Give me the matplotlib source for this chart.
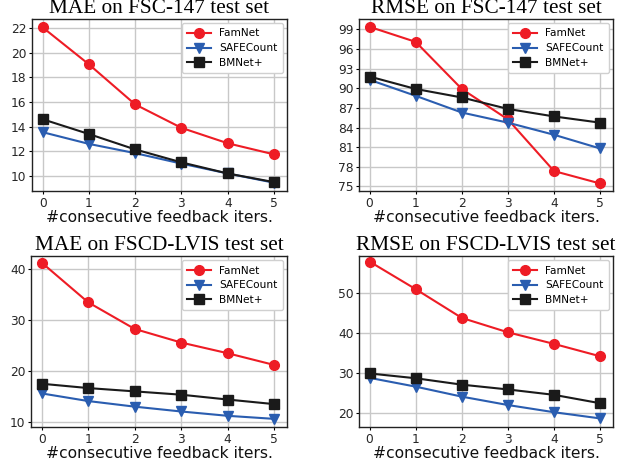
import matplotlib
matplotlib.use('Agg')
import matplotlib.pyplot as plt

iters = [0, 1, 2, 3, 4, 5]

# MAE on FSC-147
mae_fsc_famnet = [22.05, 19.05, 15.8, 13.9, 12.65, 11.75]
mae_fsc_safe = [13.55, 12.6, 11.85, 11.0, 10.2, 9.45]
mae_fsc_bmnet = [14.6, 13.4, 12.15, 11.1, 10.2, 9.5]

# RMSE on FSC-147
rmse_fsc_famnet = [99.4, 97.1, 89.9, 85.25, 77.35, 75.45]
rmse_fsc_safe = [91.3, 88.85, 86.3, 84.75, 82.9, 80.8]
rmse_fsc_bmnet = [91.8, 89.9, 88.6, 86.85, 85.7, 84.75]

# MAE on FSCD-LVIS
mae_lvis_famnet = [41.3, 33.5, 28.27, 25.6, 23.5, 21.2]
mae_lvis_safe = [15.6, 14.1, 13.0, 12.05, 11.2, 10.6]
mae_lvis_bmnet = [17.5, 16.65, 16.0, 15.35, 14.4, 13.5]

# RMSE on FSCD-LVIS
rmse_lvis_famnet = [57.9, 51.0, 43.8, 40.2, 37.3, 34.2]
rmse_lvis_safe = [28.8, 26.6, 24.1, 22.0, 20.2, 18.65]
rmse_lvis_bmnet = [29.9, 28.7, 27.1, 25.9, 24.55, 22.45]

titles = ['MAE on FSC-147 test set', 'RMSE on FSC-147 test set',
          'MAE on FSCD-LVIS test set', 'RMSE on FSCD-LVIS test set']
series = [
    (mae_fsc_famnet, mae_fsc_safe, mae_fsc_bmnet),
    (rmse_fsc_famnet, rmse_fsc_safe, rmse_fsc_bmnet),
    (mae_lvis_famnet, mae_lvis_safe, mae_lvis_bmnet),
    (rmse_lvis_famnet, rmse_lvis_safe, rmse_lvis_bmnet),
]
yticks = [
    [10, 12, 14, 16, 18, 20, 22],
    [75, 78, 81, 84, 87, 90, 93, 96, 99],
    [10, 20, 30, 40],
    [20, 30, 40, 50],
]
ylims = [(8.78, 22.73), (74.3, 100.6), (9.0, 42.6), (16.5, 59.3)]

# axes boxes in pixels: left, right, top, bottom
W, H = 625, 463
boxes = [(32, 287, 19, 191), (359, 613, 19, 191),
         (31, 287, 256, 427), (359, 613, 256, 427)]

names = ['FamNet', 'SAFECount', 'BMNet+']
colors = ['#ee1c25', '#2a5db0', '#1a1a1a']
markers = ['o', 'v', 's']

fig = plt.figure(figsize=(W / 100, H / 100), dpi=100)

for k in range(4):
    l, r, t, b = boxes[k]
    ax = fig.add_axes([l / W, 1 - b / H, (r - l) / W, (b - t) / H])
    for vals, name, c, m in zip(series[k], names, colors, markers):
        ax.plot(iters, vals, color=c, marker=m, markersize=7, linewidth=1.5,
                label=name)
    ax.set_ylim(*ylims[k])
    ax.set_xlim(-0.23, 5.28)
    ax.set_xticks(iters)
    ax.set_yticks(yticks[k])
    ax.grid(True, color='#c8c8c8', linewidth=1.0)
    ax.set_axisbelow(True)
    ax.tick_params(labelsize=8.8, labelcolor='#262626', length=2.5, pad=1.5)
    for s in ax.spines.values():
        s.set_color('#222222')
        s.set_linewidth(1.0)
    ax.set_xlabel('#consecutive feedback iters.', fontsize=11.2, labelpad=0,
                  color='#111111')
    ax.set_title(titles[k], family='Liberation Serif', fontsize=15.3, pad=4)
    ax.legend(loc='upper right', fontsize=7.6, handlelength=2.2,
              framealpha=1.0, edgecolor='#d0d0d0', borderpad=0.5,
              labelspacing=0.45, borderaxespad=0.4, fancybox=True)

fig.savefig('out.png', dpi=100)
